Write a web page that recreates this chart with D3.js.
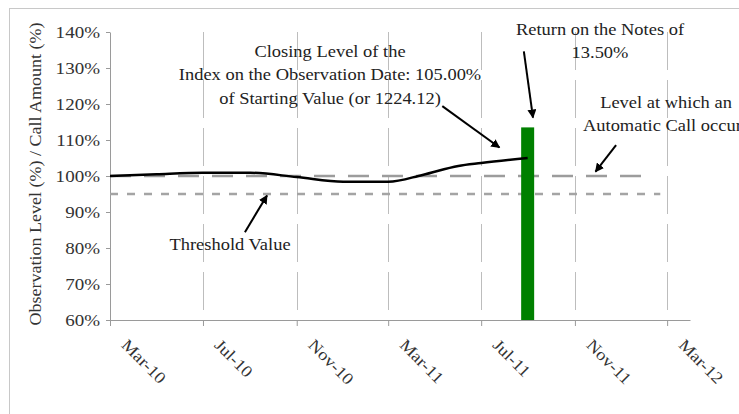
<!DOCTYPE html>
<html>
<head>
<meta charset="utf-8">
<script src="https://cdn.jsdelivr.net/npm/d3@7"></script>
<style>
  body { margin: 0; background: #fff; }
  svg { display: block; font-family: "Liberation Serif", "Times New Roman", serif; }
</style>
</head>
<body>
<svg id="chart" width="739" height="414"></svg>
<script>
// observation path of the index (% of starting value)
const lineDates = ["2010-03-01","2010-05-01","2010-07-01","2010-09-01","2010-11-01","2011-01-01","2011-03-01","2011-04-15","2011-06-01","2011-07-01","2011-08-31"];
const lineValues = [100, 100.5, 100.9, 100.9, 99.7, 98.4, 98.4, 100.3, 102.8, 103.6, 105];

// return on the notes (call amount)
const barDate = "2011-08-31";
const barValue = 113.5;

// reference levels
const callLevel = 100;
const callLevelEnd = "2012-02-12";
const thresholdLevel = 95;
const thresholdEnd = "2012-02-21";

const xTickDates = ["2010-03-01","2010-07-01","2010-11-01","2011-03-01","2011-07-01","2011-11-01","2012-03-01"];
const yTicks = [60, 70, 80, 90, 100, 110, 120, 130, 140];

const parse = d3.timeParse("%Y-%m-%d");

const config = {
  margin: {top: 32, left: 110},
  width: 580,
  height: 288
};
const stretch = 1.12; // the source type is a little wider than Liberation Serif

const svg = d3.select('#chart');

// light frame (only top and left edges are visible)
svg.append('rect')
  .attr('x', 9.5).attr('y', 8.5)
  .attr('width', 760).attr('height', 430)
  .attr('fill', '#fff')
  .attr('stroke', '#c8c8c8');

const xScale = d3.scaleTime()
  .domain([parse("2010-03-01"), parse("2012-03-31")])
  .range([config.margin.left, config.margin.left + config.width]);

const yScale = d3.scaleLinear()
  .domain([60, 140])
  .range([config.margin.top + config.height, config.margin.top]);

const x0 = xScale.range()[0];
const yBottom = yScale(60), yTop = yScale(140);

// vertical gridlines
svg.append('g')
  .selectAll('line')
  .data(xTickDates.slice(1).map(parse))
  .join('line')
  .attr('x1', d => Math.round(xScale(d)) + 0.5)
  .attr('x2', d => Math.round(xScale(d)) + 0.5)
  .attr('y1', yTop)
  .attr('y2', yBottom)
  .attr('stroke', '#bdbdbd')
  .attr('stroke-width', 1)
  .attr('stroke-dasharray', '38,10');

// x axis
const xAxis = d3.axisBottom(xScale)
  .tickValues(xTickDates.map(parse))
  .tickFormat(d3.timeFormat('%b-%y'))
  .tickSize(6)
  .tickSizeOuter(0);

const xAxisG = svg.append('g')
  .attr('transform', `translate(0,${yBottom})`)
  .call(xAxis);
xAxisG.select('.domain').attr('stroke', '#9a9a9a');
xAxisG.selectAll('.tick line').attr('stroke', '#9a9a9a');
xAxisG.selectAll('.tick text')
  .attr('fill', '#333')
  .style('font-size', '16.5px')
  .style('font-family', '"Liberation Serif", serif')
  .attr('text-anchor', 'start')
  .attr('x', 0).attr('y', 0).attr('dy', 0)
  .attr('transform', `translate(10,26) rotate(45) scale(${stretch},1)`);

// y axis
const yAxis = d3.axisLeft(yScale)
  .tickValues(yTicks)
  .tickFormat(d => d + '%')
  .tickSize(4)
  .tickSizeOuter(0);

const yAxisG = svg.append('g')
  .attr('transform', `translate(${x0},0)`)
  .call(yAxis);
yAxisG.select('.domain').attr('stroke', '#9a9a9a');
yAxisG.selectAll('.tick line').attr('stroke', '#9a9a9a');
yAxisG.selectAll('.tick text')
  .attr('fill', '#333')
  .attr('x', -10 / stretch)
  .attr('transform', `scale(${stretch},1)`)
  .style('font-size', '17px')
  .style('font-family', '"Liberation Serif", serif');

// y axis title
svg.append('text')
  .attr('transform', `translate(41,${(yTop + yBottom) / 2 - 2}) rotate(-90) scale(1.06,1)`)
  .attr('text-anchor', 'middle')
  .attr('fill', '#333')
  .style('font-size', '17px')
  .text('Observation Level (%) / Call Amount (%)');

// reference lines
svg.append('line')
  .attr('x1', x0).attr('x2', xScale(parse(callLevelEnd)))
  .attr('y1', yScale(callLevel)).attr('y2', yScale(callLevel))
  .attr('stroke', '#9c9c9c').attr('stroke-width', 2.5)
  .attr('stroke-dasharray', '21,13');

svg.append('line')
  .attr('x1', x0).attr('x2', xScale(parse(thresholdEnd)))
  .attr('y1', yScale(thresholdLevel)).attr('y2', yScale(thresholdLevel))
  .attr('stroke', '#a4a4a4').attr('stroke-width', 2.5)
  .attr('stroke-dasharray', '8,9');

// bar
const barW = 13;
svg.append('rect')
  .attr('x', xScale(parse(barDate)) - barW / 2)
  .attr('width', barW)
  .attr('y', yScale(barValue))
  .attr('height', yBottom - yScale(barValue))
  .attr('fill', '#008000');

// index line
const lineData = lineDates.map((d, i) => ({date: parse(d), value: lineValues[i]}));
const line = d3.line()
  .x(d => xScale(d.date))
  .y(d => yScale(d.value))
  .curve(d3.curveMonotoneX);

svg.append('path')
  .datum(lineData)
  .attr('d', line)
  .attr('fill', 'none')
  .attr('stroke', '#000')
  .attr('stroke-width', 2.5);

// arrowheads
svg.append('defs').append('marker')
  .attr('id', 'arrow')
  .attr('viewBox', '0 0 10 10')
  .attr('refX', 9).attr('refY', 5)
  .attr('markerWidth', 4.5).attr('markerHeight', 4.5)
  .attr('orient', 'auto')
  .append('path')
  .attr('d', 'M0,0L10,5L0,10Z')
  .attr('fill', '#000');

// annotation arrows in data units: [fromDate, fromValue, toDate, toValue]
const arrows = [
  ["2011-05-11", 119.4, "2011-07-25", 107.9],
  ["2011-08-26", 134.6, "2011-09-07", 116.2],
  ["2011-12-25", 108.6, "2011-11-28", 101.2],
  ["2010-08-25", 84.4, "2010-09-23", 94.6]
];

svg.append('g')
  .selectAll('line')
  .data(arrows)
  .join('line')
  .attr('x1', d => xScale(parse(d[0])))
  .attr('y1', d => yScale(d[1]))
  .attr('x2', d => xScale(parse(d[2])))
  .attr('y2', d => yScale(d[3]))
  .attr('stroke', '#000')
  .attr('stroke-width', 2)
  .attr('marker-end', 'url(#arrow)');

// annotation texts
const notes = [
  {x: 330, y: 57, lines: ['Closing Level of the', 'Index on the Observation Date: 105.00%', 'of Starting Value (or 1224.12)']},
  {x: 600, y: 35, lines: ['Return on the Notes of', '13.50%']},
  {x: 666, y: 108, lines: ['Level at which an', 'Automatic Call occurs']},
  {x: 230, y: 250, lines: ['Threshold Value']}
];

notes.forEach(n => {
  const t = svg.append('text')
    .attr('transform', `translate(${n.x},${n.y}) scale(${stretch},1)`)
    .attr('text-anchor', 'middle')
    .attr('fill', '#222')
    .style('font-size', '16.5px');
  n.lines.forEach((l, i) => {
    t.append('tspan')
      .attr('x', 0)
      .attr('y', i * 23.5)
      .text(l);
  });
});
</script>
</body>
</html>
